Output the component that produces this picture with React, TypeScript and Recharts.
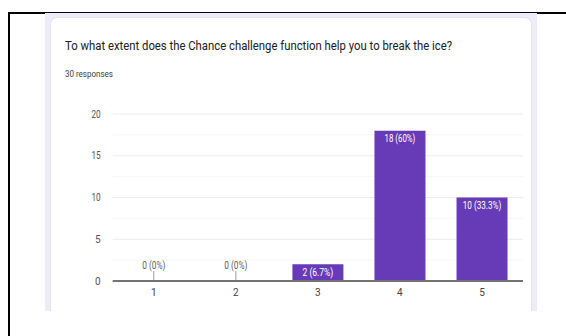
import { BarChart, Bar, XAxis, YAxis, CartesianGrid, LabelList } from 'recharts'

const PURPLE = '#673AB7'
const LAVENDER = '#F0EBF8'
const FONT = "'Roboto', 'Liberation Sans', sans-serif"

const TITLE = 'To what extent does the Chance challenge function help you to break the ice?'
const SUBTITLE = '30 responses'

const categories = ['1', '2', '3', '4', '5']
const counts = [0, 0, 2, 18, 10]
const percents = ['0%', '0%', '6.7%', '60%', '33.3%']
const yTicks = [0, 5, 10, 15, 20]
const minorLines = [2.5, 7.5, 12.5, 17.5]

const data = categories.map((name, i) => ({
    name,
    count: counts[i],
    label: `${counts[i]} (${percents[i]})`,
}))

// the reference uses a narrow face, so squeeze text to its measured width
const narrow = (s: string, perChar: number) => (s.length > 1 ? s.length * perChar : undefined)

const BarLabel = (props: any) => {
    const { x, y, width, index } = props
    const cx = Number(x) + Number(width) / 2
    const item = data[index]
    if (!item) return null
    const len = narrow(item.label, 3.85)
    if (item.count === 0) {
        return (
            <g>
                <line x1={cx} x2={cx} y1={Number(y) - 9} y2={Number(y)} stroke="#9e9e9e" strokeWidth={1} />
                <text x={cx} y={Number(y) - 15} textAnchor="middle" dominantBaseline="central" fill="#5f6368" fontSize={10} fontFamily={FONT} textLength={len} lengthAdjust="spacingAndGlyphs">
                    {item.label}
                </text>
            </g>
        )
    }
    return (
        <text x={cx} y={Number(y) + 8} textAnchor="middle" dominantBaseline="central" fill="#ffffff" fontSize={10} fontFamily={FONT} textLength={len} lengthAdjust="spacingAndGlyphs">
            {item.label}
        </text>
    )
}

const YTick = ({ x, y, payload }: any) => {
    const s = String(payload.value)
    return (
        <text x={x} y={y} textAnchor="end" dominantBaseline="central" fill="#555" fontSize={10} fontFamily={FONT} textLength={narrow(s, 4.6)} lengthAdjust="spacingAndGlyphs">
            {s}
        </text>
    )
}

const App = () => {
    return (
        <div style={{ position: 'absolute', left: 0, top: 0, width: 566, height: 336, background: '#fff', overflow: 'hidden' }}>
            {/* frame lines */}
            <div style={{ position: 'absolute', left: 8, top: 12, width: 558, height: 2, background: '#000' }} />
            <div style={{ position: 'absolute', left: 8, top: 12, width: 2, height: 324, background: '#000' }} />

            {/* lavender page and white card */}
            <div style={{ position: 'absolute', left: 45, top: 13, width: 492, height: 298, background: LAVENDER }} />
            <div style={{
                position: 'absolute', left: 50, top: 17, width: 480, height: 300, background: '#fff',
                borderTopLeftRadius: 7, borderTopRightRadius: 7, border: '1px solid #e4e2ea', borderBottom: 'none',
            }} />
            <div style={{ position: 'absolute', left: 0, top: 311, width: 566, height: 25, background: '#fff' }} />
            <div style={{ position: 'absolute', left: 8, top: 311, width: 2, height: 25, background: '#000' }} />

            <svg width={566} height={90} style={{ position: 'absolute', left: 0, top: 0 }}>
                <text x={65} y={49.5} fontSize={13} fill="#202124" fontFamily={FONT} textLength={387} lengthAdjust="spacingAndGlyphs">
                    {TITLE}
                </text>
                <text x={65} y={77} fontSize={9.5} fill="#3c4043" fontFamily={FONT} textLength={48} lengthAdjust="spacingAndGlyphs">
                    {SUBTITLE}
                </text>
            </svg>

            <div style={{ position: 'absolute', left: 0, top: 0 }}>
                <BarChart
                    width={566}
                    height={336}
                    data={data}
                    margin={{ top: 114, right: 43, bottom: 35, left: 72.7 }}
                    barCategoryGap="19%"
                >
                    <CartesianGrid horizontalValues={minorLines} vertical={false} stroke="#f6f6f6" strokeWidth={1} />
                    <CartesianGrid horizontalValues={yTicks} vertical={false} stroke="#ececec" strokeWidth={1} />
                    <XAxis
                        dataKey="name"
                        axisLine={{ stroke: '#737373', strokeWidth: 2 }}
                        tickLine={false}
                        tick={{ fill: '#444', fontSize: 10, fontFamily: FONT }}
                        height={20}
                    />
                    <YAxis
                        domain={[0, 20]}
                        ticks={yTicks}
                        axisLine={false}
                        tickLine={false}
                        width={40}
                        tickMargin={6}
                        tick={<YTick />}
                    />
                    <Bar dataKey="count" fill={PURPLE} minPointSize={1} isAnimationActive={false}>
                        <LabelList dataKey="count" content={<BarLabel />} />
                    </Bar>
                </BarChart>
            </div>
        </div>
    )
}

export default App
